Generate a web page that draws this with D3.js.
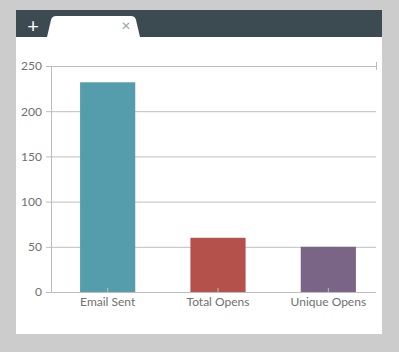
<!DOCTYPE html>
<html lang="en">
<head>
  <meta charset="UTF-8">
  <title>bar-chart</title>
  <script src="https://cdn.jsdelivr.net/npm/d3@7"></script>
  <style>
    body { margin: 0; background: #cccccc; }
    text { font-family: Lato, "Open Sans", sans-serif; }
  </style>
</head>
<body>
<script>
let categories = ['Email Sent', 'Total Opens', 'Unique Opens'];
let values = [232, 60, 50];
let colors = ['#559dac', '#b5514b', '#7a6586'];
let yTicks = [0, 50, 100, 150, 200, 250];

let _width = 399;
let _height = 352;
let _margins = {top: 66, left: 51, right: 23, bottom: 60};

let svg = d3.select('body')
  .append('svg')
  .attr('width', _width)
  .attr('height', _height);

// card with header bar and tab
svg.append('rect')
  .attr('x', 16).attr('y', 10)
  .attr('width', 366).attr('height', 324)
  .attr('fill', '#ffffff');

svg.append('rect')
  .attr('x', 16).attr('y', 10)
  .attr('width', 366).attr('height', 27)
  .attr('fill', '#3c4a52');

svg.append('path')
  .attr('d', 'M47,37 L51,20 Q52,16 56,16 L131,16 Q135,16 136,20 L140,37 Z')
  .attr('fill', '#ffffff');

svg.append('text')
  .attr('x', 33).attr('y', 32.5)
  .attr('text-anchor', 'middle')
  .attr('fill', '#ffffff')
  .style('font-size', '20px')
  .text('+');

svg.append('text')
  .attr('x', 126).attr('y', 31)
  .attr('text-anchor', 'middle')
  .attr('fill', '#8fa5b0')
  .style('font-size', '16px')
  .text('×');

function quadrantWidth() {
  return _width - _margins.left - _margins.right;
}

function quadrantHeight() {
  return _height - _margins.top - _margins.bottom;
}

let x = d3.scaleBand()
  .domain(categories)
  .range([1.5, 332.5])
  .paddingInner(0.5)
  .paddingOuter(0.25);

let y = d3.scaleLinear()
  .domain([0, 250])
  .range([quadrantHeight(), 0]);

let bodyG = svg.append('g')
  .attr('transform', 'translate(' + _margins.left + ',' + _margins.top + ')');

// grid lines
bodyG.selectAll('line.grid')
  .data(yTicks.filter(function (d) { return d > 0; }))
  .enter()
  .append('line')
  .attr('class', 'grid')
  .attr('x1', 0)
  .attr('x2', quadrantWidth())
  .attr('y1', function (d) { return y(d) + 0.5; })
  .attr('y2', function (d) { return y(d) + 0.5; })
  .attr('stroke', '#bdbdbd')
  .attr('stroke-width', 1);

// small end tick at top right
bodyG.append('line')
  .attr('x1', quadrantWidth() + 0.5)
  .attr('x2', quadrantWidth() + 0.5)
  .attr('y1', y(250) - 4)
  .attr('y2', y(250) + 4)
  .attr('stroke', '#bdbdbd');

bodyG.selectAll('rect.bar')
  .data(values)
  .enter()
  .append('rect')
  .attr('class', 'bar')
  .attr('x', function (d, i) { return x(categories[i]); })
  .attr('width', x.bandwidth())
  .attr('y', function (d) { return y(d); })
  .attr('height', function (d) { return quadrantHeight() - y(d); })
  .attr('fill', function (d, i) { return colors[i]; });

let yAxis = d3.axisLeft(y)
  .tickValues(yTicks)
  .tickSize(5)
  .tickPadding(4)
  .tickSizeOuter(0);

let yG = bodyG.append('g').call(yAxis);

let xAxis = d3.axisBottom(x)
  .tickSize(4)
  .tickPadding(1)
  .tickSizeOuter(0);

let xG = bodyG.append('g')
  .attr('transform', 'translate(0,' + quadrantHeight() + ')')
  .call(xAxis);

// axis line spans the plot width, not the band range
xG.select('.domain').attr('d', 'M0.5,0.5H' + quadrantWidth());

[yG, xG].forEach(function (g) {
  g.select('.domain').attr('stroke', '#bdbdbd');
  g.selectAll('.tick line').attr('stroke', '#bdbdbd');
  g.selectAll('.tick text')
    .attr('fill', '#707070')
    .style('font-size', '12px');
});

// x tick marks sit inside the plot, pointing up
xG.selectAll('.tick line').attr('y2', -4);
</script>
</body>
</html>
